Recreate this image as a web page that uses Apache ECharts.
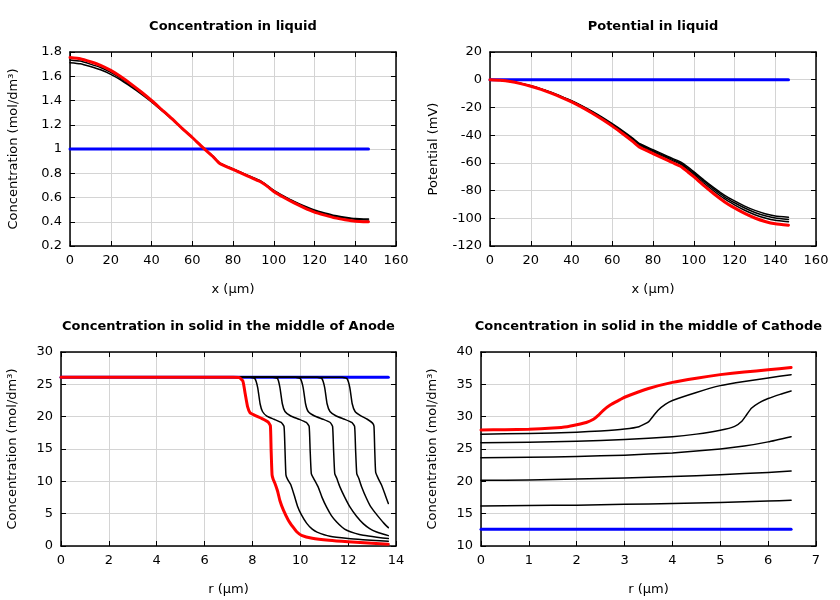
<!DOCTYPE html>
<html><head><meta charset="utf-8">
<script src="https://cdn.jsdelivr.net/npm/echarts@6/dist/echarts.min.js"></script>
<style>html,body{margin:0;padding:0;background:#fff}#c{width:840px;height:600px}</style>
</head><body><div id="c"></div>
<script>
// ---------- Data ----------
const titles = ['Concentration in liquid', 'Potential in liquid',
  'Concentration in solid in the middle of Anode', 'Concentration in solid in the middle of Cathode'];

// Liquid phase, x in µm
const liqX = [0,5,10,15,20,25,30,35,40,45,50,55,60,65,70,73.5,80,87,90,93.5,97,100,105,110,115,120,125,130,135,140,146.5];
const liqConcInit = [1,1,1,1,1,1,1,1,1,1,1,1,1,1,1,1,1,1,1,1,1,1,1,1,1,1,1,1,1,1,1];
const liqConcB1 = [1.712,1.703,1.68,1.653,1.616,1.569,1.513,1.453,1.389,1.318,1.246,1.17,1.096,1.017,0.944,0.884,0.836,0.785,0.763,0.737,0.697,0.659,0.612,0.568,0.53,0.497,0.473,0.452,0.438,0.427,0.422];
const liqConcB2 = [1.735,1.725,1.70,1.672,1.633,1.583,1.525,1.462,1.395,1.322,1.248,1.17,1.095,1.016,0.942,0.882,0.834,0.782,0.76,0.734,0.693,0.655,0.607,0.563,0.524,0.49,0.466,0.444,0.43,0.42,0.415];
const liqConcFinal = [1.755,1.745,1.72,1.69,1.648,1.595,1.535,1.47,1.40,1.325,1.25,1.17,1.095,1.015,0.94,0.88,0.831,0.779,0.756,0.73,0.69,0.65,0.60,0.555,0.515,0.48,0.455,0.432,0.417,0.405,0.40];

const liqPotInit = [0,0,0,0,0,0,0,0,0,0,0,0,0,0,0,0,0,0,0,0,0,0,0,0,0,0,0,0,0,0,0];
const liqPotB1 = [0,-0.4,-1.2,-2.6,-4.4,-6.6,-9.1,-12.0,-15.1,-18.7,-22.7,-27.0,-31.7,-36.7,-42.1,-46.2,-50.5,-55.1,-57.1,-59.3,-62.8,-66.3,-72.4,-78.0,-83.2,-87.5,-91.2,-94.3,-96.7,-98.3,-99.2];
const liqPotB2 = [0,-0.4,-1.25,-2.7,-4.5,-6.7,-9.3,-12.2,-15.4,-19.0,-23.0,-27.5,-32.2,-37.2,-42.7,-46.9,-51.2,-55.8,-57.8,-60.1,-63.7,-67.2,-73.4,-79.2,-84.5,-88.8,-92.6,-95.8,-98.2,-99.8,-100.8];
const liqPotB3 = [0,-0.4,-1.27,-2.73,-4.6,-6.83,-9.47,-12.4,-15.6,-19.3,-23.4,-27.9,-32.7,-37.9,-43.4,-47.6,-52.0,-56.6,-58.7,-61,-64.7,-68.3,-74.7,-80.5,-85.9,-90.3,-94.2,-97.4,-99.8,-101.5,-102.5];
const liqPotFinal = [0,-0.4,-1.3,-2.8,-4.7,-7.0,-9.7,-12.7,-16.0,-19.8,-24.0,-28.6,-33.5,-38.8,-44.5,-48.8,-53.3,-58.1,-60.1,-62.5,-66.4,-70,-76.5,-82.5,-88,-92.5,-96.5,-99.8,-102.3,-104,-105];

// Anode solid, [r (µm), c (mol/dm3)]
const anodeInit = [[0,26.1],[13.68,26.1]];
const anodeB1 = [[0,26.1],[7.9,26.1],[8.1,25.9],[8.22,24.5],[8.32,22],[8.42,20.8],[8.6,20.1],[8.9,19.6],[9.2,19.1],[9.32,18.5],[9.36,15],[9.40,11],[9.47,10.3],[9.6,9.5],[9.75,7.8],[9.88,6.2],[10.05,4.8],[10.27,3.5],[10.5,2.6],[10.7,2.15],[11.24,1.5],[12,1.15],[12.62,0.98],[13.68,0.75]];
const anodeB2 = [[0,26.1],[8.85,26.1],[9.05,25.9],[9.15,24.5],[9.25,22],[9.36,20.8],[9.6,20.1],[9.95,19.6],[10.25,19.1],[10.37,18.5],[10.41,15],[10.46,11.2],[10.55,10.5],[10.75,9.1],[10.9,7.6],[11.1,6.0],[11.3,4.7],[11.52,3.7],[11.75,2.9],[11.94,2.43],[12.3,1.95],[12.63,1.65],[13.2,1.35],[13.68,1.15]];
const anodeB3 = [[0,26.1],[9.8,26.1],[10.0,25.9],[10.12,24.5],[10.22,22],[10.33,20.8],[10.6,20.1],[10.95,19.6],[11.25,19.1],[11.35,18.5],[11.39,15],[11.44,11.2],[11.52,10.5],[11.66,9.1],[11.85,7.6],[12.08,6.0],[12.35,4.6],[12.63,3.46],[12.9,2.7],[13.19,2.17],[13.45,1.85],[13.68,1.6]];
const anodeB4 = [[0,26.1],[10.7,26.1],[10.9,25.9],[11.02,24.5],[11.12,22],[11.24,20.8],[11.5,20.1],[11.85,19.6],[12.15,19.1],[12.27,18.5],[12.31,15],[12.36,11.2],[12.44,10.5],[12.57,9.1],[12.75,7.5],[12.91,6.3],[13.12,5.2],[13.33,4.23],[13.5,3.5],[13.68,2.84]];
const anodeB5 = [[0,26.1],[11.75,26.1],[11.95,25.9],[12.07,24.5],[12.17,22],[12.29,20.8],[12.5,20.2],[12.8,19.6],[13.02,19.0],[13.08,18.5],[13.11,15],[13.15,11.4],[13.25,10.5],[13.4,9.4],[13.55,7.9],[13.68,6.56]];
const anodeFinal = [[0,26.1],[7.2,26.1],[7.45,26.05],[7.6,25.5],[7.7,23.5],[7.8,21.5],[7.9,20.6],[8.1,20.2],[8.4,19.7],[8.65,19.2],[8.75,18.6],[8.78,15],[8.82,11],[8.87,10.3],[8.95,9.6],[9.05,8.5],[9.15,7.0],[9.3,5.5],[9.5,4.0],[9.7,2.9],[9.85,2.2],[10.05,1.65],[10.5,1.2],[11.2,0.88],[12,0.65],[13,0.42],[13.68,0.28]];

// Cathode solid, [r (µm), c (mol/dm3)]
const cathodeInit = [[0,12.6],[6.48,12.6]];
const cathodeB1 = [[0,16.2],[1,16.25],[2,16.32],[3,16.44],[4,16.57],[5,16.74],[6,16.95],[6.48,17.08]];
const cathodeB2 = [[0,20.15],[1,20.22],[2,20.35],[3,20.52],[4,20.75],[5,21.02],[6,21.38],[6.48,21.6]];
const cathodeB3 = [[0,23.65],[1,23.72],[2,23.85],[3,24.05],[4,24.4],[5,25.0],[5.5,25.45],[6,26.1],[6.48,26.9]];
const cathodeB4 = [[0,25.95],[1,26.05],[2,26.2],[3,26.45],[4,26.9],[4.5,27.3],[5,27.9],[5.3,28.5],[5.45,29.3],[5.55,30.3],[5.65,31.3],[5.8,32.1],[6,32.8],[6.25,33.45],[6.48,33.97]];
const cathodeB5 = [[0,27.3],[1,27.4],[2,27.6],[2.5,27.8],[3,28.1],[3.3,28.45],[3.5,29.2],[3.6,30.1],[3.7,31.0],[3.85,31.9],[4,32.5],[4.5,33.75],[5,34.8],[5.5,35.45],[6,35.98],[6.48,36.5]];
const cathodeFinal = [[0,27.95],[0.5,27.97],[1,28.05],[1.5,28.25],[1.8,28.45],[2,28.75],[2.2,29.1],[2.35,29.6],[2.45,30.2],[2.55,30.95],[2.7,31.8],[2.9,32.6],[3.0,33.0],[3.5,34.35],[4,35.3],[4.5,35.95],[5,36.5],[5.5,36.9],[6,37.25],[6.48,37.6]];

// ---------- Layout ----------
const FONT = 'DejaVu Sans';
const grids = [
  {left: 70, top: 52, width: 326, height: 194},
  {left: 490, top: 52, width: 326, height: 194},
  {left: 61, top: 352, width: 335, height: 194},
  {left: 481, top: 352, width: 335, height: 194}
];
const axesSpec = [
  {x:[0,160,20], y:[0.2,1.8,0.2], xn:'x (µm)', yn:'Concentration (mol/dm³)', yg:50},
  {x:[0,160,20], y:[-120,20,20], xn:'x (µm)', yn:'Potential (mV)', yg:50},
  {x:[0,14,2], y:[0,30,5], xn:'r (µm)', yn:'Concentration (mol/dm³)', yg:42},
  {x:[0,7,1], y:[10,40,5], xn:'r (µm)', yn:'Concentration (mol/dm³)', yg:42}
];
const zip = (xs, ys) => xs.map((x, i) => [x, ys[i]]);

const xAxis = [], yAxis = [];
axesSpec.forEach((s, g) => {
  const tick = {inside: true, length: 5, lineStyle: {color: '#000', width: 1}};
  const line = {show: true, onZero: false, lineStyle: {color: '#000', width: 1.5}};
  const lbl = {color: '#000', fontSize: 13, fontFamily: FONT, margin: 8};
  const split = {show: true, lineStyle: {color: '#d4d4d4', width: 1}};
  xAxis.push({type: 'value', gridIndex: g, position: 'bottom', min: s.x[0], max: s.x[1], interval: s.x[2],
    axisLine: line, axisTick: tick, axisLabel: lbl, splitLine: split,
    name: s.xn, nameLocation: 'middle', nameGap: 37, nameTextStyle: {color: '#000', fontSize: 13, fontFamily: FONT}});
  xAxis.push({type: 'value', gridIndex: g, position: 'top', min: s.x[0], max: s.x[1], interval: s.x[2],
    axisLine: line, axisTick: tick, axisLabel: {show: false}, splitLine: {show: false}});
  yAxis.push({type: 'value', gridIndex: g, position: 'left', min: s.y[0], max: s.y[1], interval: s.y[2],
    axisLine: line, axisTick: tick, axisLabel: lbl, splitLine: split,
    name: s.yn, nameLocation: 'middle', nameGap: s.yg, nameTextStyle: {color: '#000', fontSize: 13, fontFamily: FONT}});
  yAxis.push({type: 'value', gridIndex: g, position: 'right', min: s.y[0], max: s.y[1], interval: s.y[2],
    axisLine: line, axisTick: tick, axisLabel: {show: false}, splitLine: {show: false}});
});

function ser(g, data, kind) {
  const st = kind === 'red' ? {color: '#ff0000', width: 3} : kind === 'blue' ? {color: '#0000ff', width: 3} : {color: '#000000', width: 1.5};
  return {type: 'line', xAxisIndex: 2 * g, yAxisIndex: 2 * g, data: data, showSymbol: false, symbol: 'none',
    smooth: 0.15, lineStyle: Object.assign({join: 'round', cap: 'round'}, st), itemStyle: {color: st.color}, silent: true,
    z: kind === 'red' ? 4 : kind === 'blue' ? 2 : 3};
}

const series = [
  ser(0, zip(liqX, liqConcInit), 'blue'),
  ser(0, zip(liqX, liqConcB1), 'black'),
  ser(0, zip(liqX, liqConcB2), 'black'),
  ser(0, zip(liqX, liqConcFinal), 'red'),
  ser(1, zip(liqX, liqPotInit), 'blue'),
  ser(1, zip(liqX, liqPotB1), 'black'),
  ser(1, zip(liqX, liqPotB2), 'black'),
  ser(1, zip(liqX, liqPotB3), 'black'),
  ser(1, zip(liqX, liqPotFinal), 'red'),
  ser(2, anodeInit, 'blue'),
  ser(2, anodeB1, 'black'), ser(2, anodeB2, 'black'), ser(2, anodeB3, 'black'),
  ser(2, anodeB4, 'black'), ser(2, anodeB5, 'black'),
  ser(2, anodeFinal, 'red'),
  ser(3, cathodeInit, 'blue'),
  ser(3, cathodeB1, 'black'), ser(3, cathodeB2, 'black'), ser(3, cathodeB3, 'black'),
  ser(3, cathodeB4, 'black'), ser(3, cathodeB5, 'black'),
  ser(3, cathodeFinal, 'red')
];

const title = titles.map((t, i) => ({
  text: t, left: grids[i].left + grids[i].width / 2, top: grids[i].top - 32, textAlign: 'center', padding: 0,
  textStyle: {fontFamily: FONT, fontSize: 13, fontWeight: 'bold', color: '#000'}
}));

const chart = echarts.init(document.getElementById('c'), null, {renderer: 'canvas'});
chart.setOption({
  animation: false,
  backgroundColor: '#fff',
  title: title,
  grid: grids.map(g => Object.assign({containLabel: false}, g)),
  xAxis: xAxis, yAxis: yAxis, series: series
});
</script></body></html>
